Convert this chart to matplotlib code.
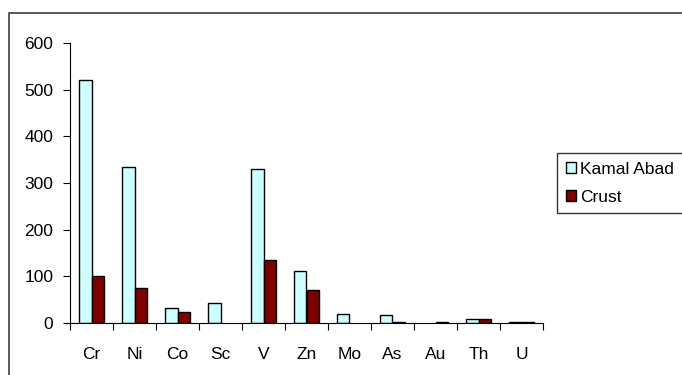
import matplotlib.pyplot as plt
import numpy as np
from matplotlib.patches import Rectangle

plt.rcParams["font.family"] = ["Liberation Sans", "DejaVu Sans"]

elements = ["Cr", "Ni", "Co", "Sc", "V", "Zn", "Mo", "As", "Au", "Th", "U"]
# None = no bar drawn for that element
kamal_abad = [520, 335, 32, 42, 331, 111, 20, 17, None, 8, 3]
crust = [100, 75, 23, None, 134, 70, None, 3, 3, 8, 3]

kamal_vals = np.array(kamal_abad, dtype=float)
crust_vals = np.array(crust, dtype=float)

fig = plt.figure(figsize=(6.82, 3.75), dpi=100)
ax = fig.add_axes([70 / 682, 1 - 323 / 375, (543 - 70) / 682, 280 / 375])

x = np.arange(len(elements))
w = 0.3
ax.bar(x - w / 2, kamal_vals, w, color="#CCFFFF", edgecolor="black", linewidth=1.0, label="Kamal Abad")
ax.bar(x + w / 2, crust_vals, w, color="#800000", edgecolor="black", linewidth=1.0, label="Crust")

ax.set_xlim(-0.5, len(elements) - 0.5)
ax.set_ylim(0, 600)
ax.set_yticks(range(0, 601, 100))

# category boundaries carry the tick marks, names sit at the centres
ax.set_xticks(np.arange(-0.5, len(elements), 1.0))
ax.set_xticklabels([])
ax.set_xticks(x, minor=True)
ax.set_xticklabels(elements, minor=True)
ax.tick_params(axis="x", which="major", direction="out", length=5, width=0.8)
ax.tick_params(axis="x", which="minor", length=0, pad=17, labelsize=12.5)
ax.tick_params(axis="y", direction="out", length=5, width=0.8, labelsize=12.5, pad=7)

for side in ["top", "right"]:
    ax.spines[side].set_visible(False)
for side in ["left", "bottom"]:
    ax.spines[side].set_linewidth(0.8)

fig.legend(
    loc="upper left",
    bbox_to_anchor=(557 / 682, 1 - 153 / 375),
    fontsize=12.5,
    frameon=True,
    fancybox=False,
    edgecolor="black",
    handlelength=0.6,
    handleheight=0.6,
    handletextpad=0.25,
    borderpad=0.5,
    labelspacing=0.75,
    borderaxespad=0,
)

# outer chart frame
fig.patches.append(
    Rectangle((9 / 682, -0.1), 1.1, 1.1 - 13 / 375, transform=fig.transFigure,
              fill=False, edgecolor="#404040", linewidth=1.2)
)

fig.savefig("out.png", dpi=100)
